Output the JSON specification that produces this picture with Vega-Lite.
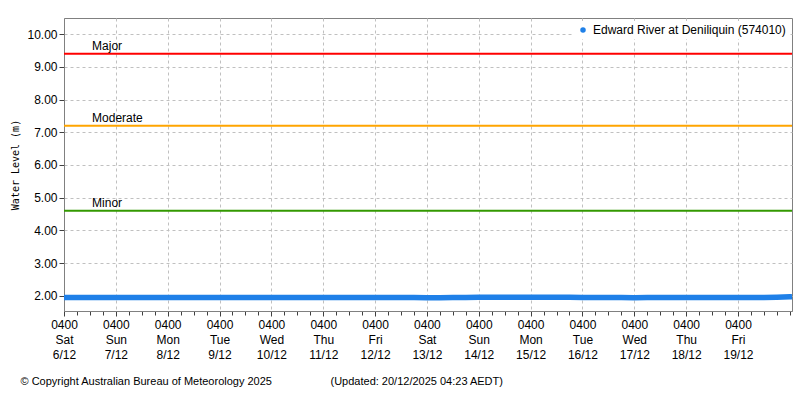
{
  "$schema": "https://vega.github.io/schema/vega-lite/v6.json",
  "width": 728,
  "height": 293,
  "autosize": {"type": "none"},
  "padding": {"left": 64, "top": 18, "right": 8, "bottom": 89},
  "background": "white",
  "config": {
    "view": {"stroke": "#808080", "strokeWidth": 1},
    "axis": {
      "gridColor": "#c0c0c0",
      "gridDash": [3, 3],
      "gridWidth": 1,
      "domainColor": "#808080",
      "tickColor": "#404040",
      "labelFont": "Liberation Sans",
      "labelFontSize": 12,
      "labelColor": "black",
      "titleColor": "black"
    },
    "axisY": {"labelOverlap": false},
    "legend": {
      "orient": "top-right",
      "offset": 3,
      "fillColor": "white",
      "padding": 3,
      "labelFont": "Liberation Sans",
      "labelFontSize": 12,
      "labelColor": "black",
      "labelLimit": 0,
      "symbolType": "circle",
      "symbolSize": 30
    }
  },
  "datasets": {
    "levels": [
      {"t": "2025-12-06T04:00Z", "h": 1.955}, {"t": "2025-12-06T10:00Z", "h": 1.955}, {"t": "2025-12-06T16:00Z", "h": 1.956}, {"t": "2025-12-06T22:00Z", "h": 1.955},
      {"t": "2025-12-07T04:00Z", "h": 1.956}, {"t": "2025-12-07T10:00Z", "h": 1.955}, {"t": "2025-12-07T16:00Z", "h": 1.956}, {"t": "2025-12-07T22:00Z", "h": 1.955},
      {"t": "2025-12-08T04:00Z", "h": 1.956}, {"t": "2025-12-08T10:00Z", "h": 1.955}, {"t": "2025-12-08T16:00Z", "h": 1.955}, {"t": "2025-12-08T22:00Z", "h": 1.954},
      {"t": "2025-12-09T04:00Z", "h": 1.952}, {"t": "2025-12-09T10:00Z", "h": 1.950}, {"t": "2025-12-09T16:00Z", "h": 1.951}, {"t": "2025-12-09T22:00Z", "h": 1.952},
      {"t": "2025-12-10T04:00Z", "h": 1.953}, {"t": "2025-12-10T10:00Z", "h": 1.952}, {"t": "2025-12-10T16:00Z", "h": 1.950}, {"t": "2025-12-10T22:00Z", "h": 1.951},
      {"t": "2025-12-11T04:00Z", "h": 1.950}, {"t": "2025-12-11T10:00Z", "h": 1.951}, {"t": "2025-12-11T16:00Z", "h": 1.952}, {"t": "2025-12-11T22:00Z", "h": 1.953},
      {"t": "2025-12-12T04:00Z", "h": 1.953}, {"t": "2025-12-12T10:00Z", "h": 1.950}, {"t": "2025-12-12T16:00Z", "h": 1.951}, {"t": "2025-12-12T22:00Z", "h": 1.949},
      {"t": "2025-12-13T04:00Z", "h": 1.946}, {"t": "2025-12-13T10:00Z", "h": 1.948}, {"t": "2025-12-13T16:00Z", "h": 1.950}, {"t": "2025-12-13T22:00Z", "h": 1.955},
      {"t": "2025-12-14T04:00Z", "h": 1.957}, {"t": "2025-12-14T10:00Z", "h": 1.958}, {"t": "2025-12-14T16:00Z", "h": 1.957}, {"t": "2025-12-14T22:00Z", "h": 1.958},
      {"t": "2025-12-15T04:00Z", "h": 1.958}, {"t": "2025-12-15T10:00Z", "h": 1.957}, {"t": "2025-12-15T16:00Z", "h": 1.958}, {"t": "2025-12-15T22:00Z", "h": 1.957},
      {"t": "2025-12-16T04:00Z", "h": 1.956}, {"t": "2025-12-16T10:00Z", "h": 1.955}, {"t": "2025-12-16T16:00Z", "h": 1.952}, {"t": "2025-12-16T22:00Z", "h": 1.950},
      {"t": "2025-12-17T04:00Z", "h": 1.948}, {"t": "2025-12-17T10:00Z", "h": 1.949}, {"t": "2025-12-17T16:00Z", "h": 1.950}, {"t": "2025-12-17T22:00Z", "h": 1.950},
      {"t": "2025-12-18T04:00Z", "h": 1.951}, {"t": "2025-12-18T10:00Z", "h": 1.950}, {"t": "2025-12-18T16:00Z", "h": 1.950}, {"t": "2025-12-18T22:00Z", "h": 1.951},
      {"t": "2025-12-19T04:00Z", "h": 1.953}, {"t": "2025-12-19T10:00Z", "h": 1.954}, {"t": "2025-12-19T16:00Z", "h": 1.956}, {"t": "2025-12-19T22:00Z", "h": 1.962},
      {"t": "2025-12-20T04:00Z", "h": 1.972}, {"t": "2025-12-20T05:00Z", "h": 1.975}
    ],
    "thresholds": [
      {"level": "Major", "value": 9.4},
      {"level": "Moderate", "value": 7.2},
      {"level": "Minor", "value": 4.6}
    ]
  },
  "layer": [
    {
      "data": {"name": "thresholds"},
      "mark": {"type": "rule", "strokeWidth": 2},
      "encoding": {
        "y": {
          "field": "value",
          "type": "quantitative",
          "scale": {"domain": [1.54, 10.49], "nice": false, "zero": false},
          "axis": {
            "values": [2, 3, 4, 5, 6, 7, 8, 9, 10],
            "format": ".2f",
            "tickSize": 5,
            "labelPadding": 2,
            "labelOverlap": false,
            "grid": true,
            "title": "Water Level (m)",
            "titleFont": "DejaVu Sans Mono",
            "titleFontSize": 10,
            "titleFontWeight": "normal",
            "titlePadding": 6
          }
        },
        "color": {
          "field": "level",
          "type": "nominal",
          "scale": {"domain": ["Major", "Moderate", "Minor"], "range": ["#ff0000", "#ffa500", "#339900"]},
          "legend": null
        }
      }
    },
    {
      "data": {"name": "thresholds"},
      "mark": {"type": "text", "align": "left", "baseline": "bottom", "dy": -1, "font": "Liberation Sans", "fontSize": 12, "color": "black"},
      "encoding": {
        "x": {
          "datum": {"year": 2025, "month": 12, "date": 6, "hours": 17, "utc": true},
          "type": "temporal",
          "scale": {"type": "utc"},
          "axis": {
            "orient": "bottom",
            "values": [
              "2025-12-06T10:00Z", "2025-12-06T16:00Z", "2025-12-06T22:00Z",
              "2025-12-07T10:00Z", "2025-12-07T16:00Z", "2025-12-07T22:00Z",
              "2025-12-08T10:00Z", "2025-12-08T16:00Z", "2025-12-08T22:00Z",
              "2025-12-09T10:00Z", "2025-12-09T16:00Z", "2025-12-09T22:00Z",
              "2025-12-10T10:00Z", "2025-12-10T16:00Z", "2025-12-10T22:00Z",
              "2025-12-11T10:00Z", "2025-12-11T16:00Z", "2025-12-11T22:00Z",
              "2025-12-12T10:00Z", "2025-12-12T16:00Z", "2025-12-12T22:00Z",
              "2025-12-13T10:00Z", "2025-12-13T16:00Z", "2025-12-13T22:00Z",
              "2025-12-14T10:00Z", "2025-12-14T16:00Z", "2025-12-14T22:00Z",
              "2025-12-15T10:00Z", "2025-12-15T16:00Z", "2025-12-15T22:00Z",
              "2025-12-16T10:00Z", "2025-12-16T16:00Z", "2025-12-16T22:00Z",
              "2025-12-17T10:00Z", "2025-12-17T16:00Z", "2025-12-17T22:00Z",
              "2025-12-18T10:00Z", "2025-12-18T16:00Z", "2025-12-18T22:00Z",
              "2025-12-19T10:00Z", "2025-12-19T16:00Z", "2025-12-19T22:00Z",
              "2025-12-20T04:00Z"
            ],
            "labels": false,
            "grid": false,
            "domain": false,
            "tickSize": 4,
            "title": "© Copyright Australian Bureau of Meteorology 2025",
            "titleFont": "Liberation Sans",
            "titleFontSize": 11,
            "titleFontWeight": "normal",
            "titleAnchor": "start",
            "titleAlign": "left",
            "titleBaseline": "alphabetic",
            "titleX": -44,
            "titleY": 73
          }
        },
        "y": {
          "field": "value",
          "type": "quantitative",
          "axis": {
            "values": [2, 3, 4, 5, 6, 7, 8, 9, 10],
            "format": ".2f",
            "tickSize": 5,
            "labelPadding": 2,
            "labelOverlap": false,
            "grid": true,
            "title": "Water Level (m)",
            "titleFont": "DejaVu Sans Mono",
            "titleFontSize": 10,
            "titleFontWeight": "normal",
            "titlePadding": 6
          }
        },
        "text": {"field": "level"}
      }
    },
    {
      "data": {"name": "levels"},
      "mark": {"type": "line", "strokeWidth": 5.5, "strokeCap": "butt"},
      "encoding": {
        "x": {
          "field": "t",
          "type": "temporal",
          "scale": {"type": "utc", "domain": ["2025-12-06T04:00Z", "2025-12-20T05:00Z"]},
          "axis": {
            "orient": "bottom",
            "values": [
              "2025-12-06T04:00Z", "2025-12-07T04:00Z", "2025-12-08T04:00Z", "2025-12-09T04:00Z",
              "2025-12-10T04:00Z", "2025-12-11T04:00Z", "2025-12-12T04:00Z", "2025-12-13T04:00Z",
              "2025-12-14T04:00Z", "2025-12-15T04:00Z", "2025-12-16T04:00Z", "2025-12-17T04:00Z",
              "2025-12-18T04:00Z", "2025-12-19T04:00Z"
            ],
            "labelExpr": "[utcFormat(datum.value, '%H%M'), utcFormat(datum.value, '%a'), utcFormat(datum.value, '%-d/%m')]",
            "labelLineHeight": 15,
            "labelPadding": 3,
            "labelOverlap": false,
            "labelFlush": false,
            "labelBound": false,
            "tickSize": 5,
            "grid": true,
            "title": "(Updated: 20/12/2025 04:23 AEDT)",
            "titleFont": "Liberation Sans",
            "titleFontSize": 11,
            "titleFontWeight": "normal",
            "titleAnchor": "start",
            "titleAlign": "left",
            "titleBaseline": "alphabetic",
            "titleX": 266,
            "titleY": 73
          }
        },
        "y": {
          "field": "h",
          "type": "quantitative",
          "axis": {
            "values": [2, 3, 4, 5, 6, 7, 8, 9, 10],
            "format": ".2f",
            "tickSize": 5,
            "labelPadding": 2,
            "labelOverlap": false,
            "grid": true,
            "title": "Water Level (m)",
            "titleFont": "DejaVu Sans Mono",
            "titleFontSize": 10,
            "titleFontWeight": "normal",
            "titlePadding": 6
          }
        },
        "color": {
          "datum": "Edward River at Deniliquin (574010)",
          "type": "nominal",
          "scale": {"range": ["#1f80e8"]},
          "legend": {"title": null, "symbolFillColor": "#1f80e8", "symbolStrokeWidth": 0}
        }
      }
    }
  ],
  "resolve": {"scale": {"color": "independent"}, "axis": {"x": "independent"}}
}
